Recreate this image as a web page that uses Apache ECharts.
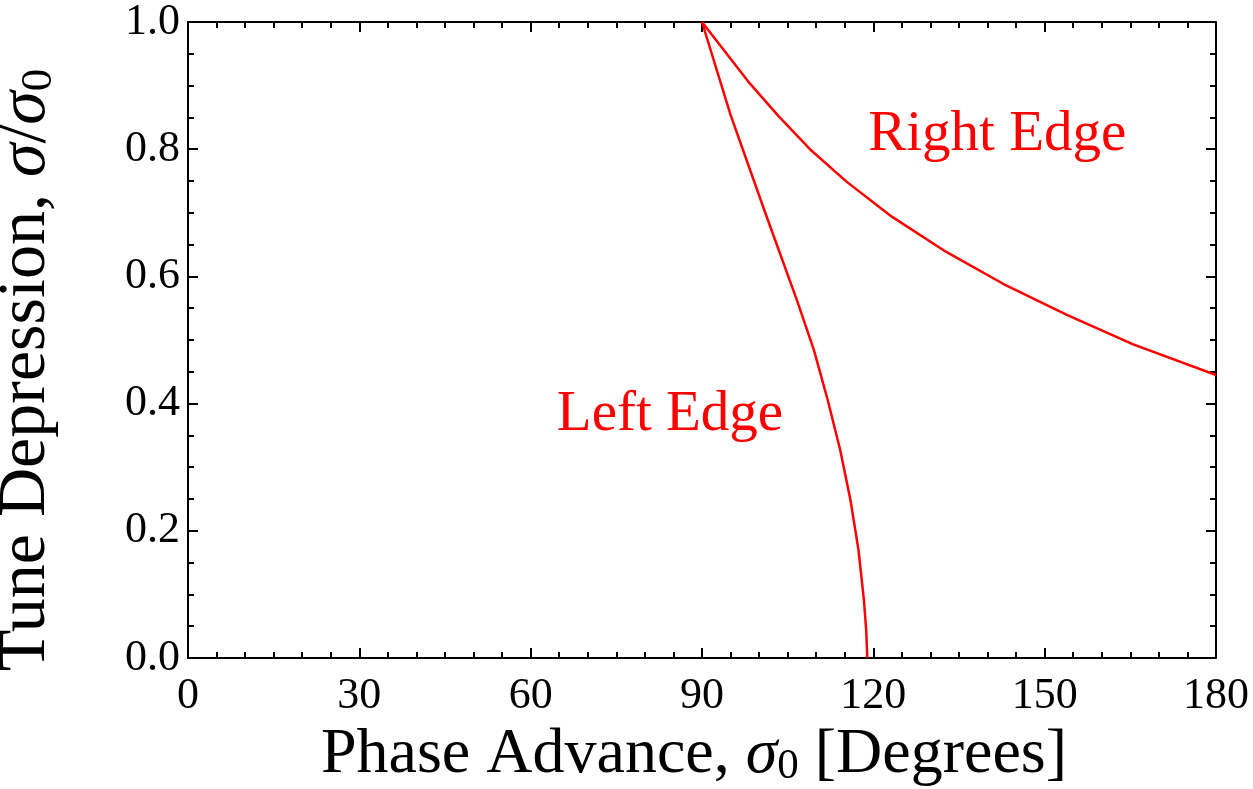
<!DOCTYPE html>
<html>
<head>
<meta charset="utf-8">
<script src="https://cdn.jsdelivr.net/npm/echarts@6/dist/echarts.min.js"></script>
<style>html,body{margin:0;padding:0;background:#fff}#c{width:1253px;height:789px}</style>
</head>
<body>
<div id="c"></div>
<script>
// Data
const leftEdgeX = [90, 95.0, 101.2, 106.6, 109.6, 112.0, 114.2, 116.0, 117.4, 118.35, 118.75, 118.94];
const leftEdgeY = [1.0, 0.854, 0.697, 0.563, 0.484, 0.406, 0.327, 0.248, 0.170, 0.091, 0.044, 0.0];
const rightEdgeX = [90, 98.4, 103.4, 108.9, 115.3, 122.9, 132.3, 142.8, 153.8, 165.5, 180];
const rightEdgeY = [1.0, 0.903, 0.852, 0.800, 0.749, 0.696, 0.641, 0.588, 0.540, 0.493, 0.445];
const xTicks = [0, 30, 60, 90, 120, 150, 180];
const yTicks = [0.0, 0.2, 0.4, 0.6, 0.8, 1.0];
const annotationText = ['Right Edge', 'Left Edge'];
const annotationX = [141.7, 84.4];
const annotationY = [0.822, 0.382];

const FONT = '"Liberation Serif", "DejaVu Serif", serif';
const RED = '#ff0000';
const zip = (a, b) => a.map((v, i) => [v, b[i]]);

const baseAxisX = {
  type: 'value', min: xTicks[0], max: xTicks[xTicks.length - 1], interval: 30,
  axisLine: { show: true, onZero: false, lineStyle: { color: '#000', width: 2 } },
  axisTick: { show: true, inside: true, length: 10, lineStyle: { color: '#000', width: 2 } },
  minorTick: { show: true, splitNumber: 6, length: 6, lineStyle: { color: '#000', width: 2 } },
  splitLine: { show: false }
};
const baseAxisY = {
  type: 'value', min: yTicks[0], max: yTicks[yTicks.length - 1], interval: 0.2,
  axisLine: { show: true, onZero: false, lineStyle: { color: '#000', width: 2 } },
  axisTick: { show: true, inside: true, length: 10, lineStyle: { color: '#000', width: 2 } },
  minorTick: { show: true, splitNumber: 4, length: 6, lineStyle: { color: '#000', width: 2 } },
  splitLine: { show: false }
};

const chart = echarts.init(document.getElementById('c'), null, { renderer: 'canvas' });
chart.setOption({
  backgroundColor: '#fff',
  animation: false,
  grid: { left: 188, right: 37, top: 22, bottom: 131, containLabel: false, outerBoundsMode: 'none' },
  xAxis: [
    Object.assign({}, baseAxisX, {
      position: 'bottom',
      axisLabel: { show: true, margin: 16, color: '#000', fontFamily: FONT, fontSize: 44,
        formatter: v => String(v) },
      name: 'Phase Advance, {i|σ}{sub|0} [Degrees]',
      nameLocation: 'middle', nameGap: 60,
      nameTextStyle: { color: '#000', fontFamily: FONT, fontSize: 64, padding: [0, 16, 0, 0],
        rich: {
          i: { fontFamily: FONT, fontStyle: 'italic', fontSize: 64, color: '#000' },
          sub: { fontFamily: FONT, fontSize: 43, color: '#000', padding: [24, 0, 0, 0] }
        } }
    }),
    Object.assign({}, baseAxisX, { position: 'top', axisLabel: { show: false } })
  ],
  yAxis: [
    Object.assign({}, baseAxisY, {
      position: 'left',
      axisLabel: { show: true, margin: 8, color: '#000', fontFamily: FONT, fontSize: 44,
        formatter: v => v.toFixed(1) },
      name: 'Tune Depression, {i|σ}/{i|σ}{sub|0}',
      nameLocation: 'middle', nameGap: 126, nameRotate: 90,
      nameTextStyle: { color: '#000', fontFamily: FONT, fontSize: 68, padding: [0, 60, 0, 0],
        rich: {
          i: { fontFamily: FONT, fontStyle: 'italic', fontSize: 68, color: '#000' },
          sub: { fontFamily: FONT, fontSize: 45, color: '#000', padding: [26, 0, 0, 0] }
        } }
    }),
    Object.assign({}, baseAxisY, { position: 'right', axisLabel: { show: false } })
  ],
  series: [
    {
      name: 'Left Edge', type: 'line', xAxisIndex: 0, yAxisIndex: 0,
      data: zip(leftEdgeX, leftEdgeY), showSymbol: false, smooth: false,
      lineStyle: { color: RED, width: 2.5, join: 'round' }, clip: true
    },
    {
      name: 'Right Edge', type: 'line', xAxisIndex: 0, yAxisIndex: 0,
      data: zip(rightEdgeX, rightEdgeY), showSymbol: false, smooth: false,
      lineStyle: { color: RED, width: 2.5, join: 'round' }, clip: true
    },
    {
      name: 'labels', type: 'scatter', xAxisIndex: 0, yAxisIndex: 0,
      symbolSize: 0, silent: true, itemStyle: { opacity: 1 },
      data: annotationText.map((t, i) => ({ value: [annotationX[i], annotationY[i]], name: t })),
      label: { show: true, position: 'inside', formatter: p => p.name, opacity: 1,
        color: RED, fontFamily: FONT, fontSize: 57 }
    }
  ]
});
</script>
</body>
</html>
